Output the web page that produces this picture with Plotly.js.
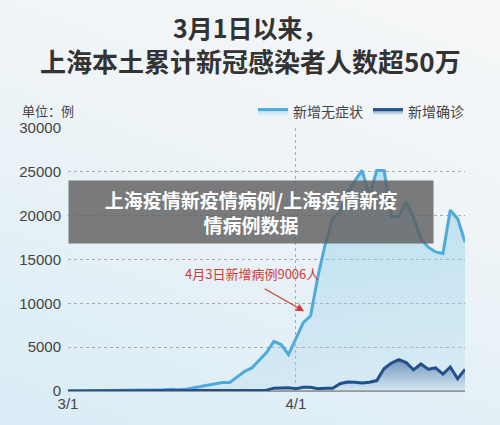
<!DOCTYPE html>
<html><head><meta charset="utf-8">
<script src="https://cdn.plot.ly/plotly-3.0.1.min.js"></script>
<style>
html,body{margin:0;padding:0;}
body{width:500px;height:425px;background:linear-gradient(200deg,#f6f7f8 0%,#eef4f7 40%,#d9ecf6 100%);}
#chart{width:500px;height:425px;}
</style></head><body><div id="chart"></div>
<script>
const dates = ['3/1','3/2','3/3','3/4','3/5','3/6','3/7','3/8','3/9','3/10',
 '3/11','3/12','3/13','3/14','3/15','3/16','3/17','3/18','3/19','3/20',
 '3/21','3/22','3/23','3/24','3/25','3/26','3/27','3/28','3/29','3/30','3/31',
 '4/1','4/2','4/3','4/4','4/5','4/6','4/7','4/8','4/9','4/10',
 '4/11','4/12','4/13','4/14','4/15','4/16','4/17','4/18','4/19','4/20',
 '4/21','4/22','4/23','4/24'];
const asymptomatic = [1,5,14,16,28,45,51,62,76,64,
 78,64,128,130,197,150,203,366,492,734,
 865,977,979,1580,2231,2631,3450,4381,5656,5298,4144,
 6051,7788,8581,13086,16766,19660,20398,22609,23937,25173,
 22348,25141,25146,19872,19923,21582,19831,17332,16407,15861,
 15698,20634,19657,16983];
const confirmed = [1,3,2,3,0,3,1,3,4,11,
 5,1,41,9,5,8,57,8,17,24,
 31,4,4,29,38,45,50,96,326,355,358,
 260,438,425,268,311,322,824,1015,1006,914,
 994,1189,2573,3200,3590,3238,2417,3084,2494,2634,
 1931,2736,1401,2472];
const xTicks = ['3/1','4/1','4/24'];
const xTickText = ['3/1','4/1',''];
const yTicks = [0,5000,10000,15000,20000,25000,30000];
const seriesNames = ['新增无症状','新增确诊'];
const titleLines = ['3月1日以来，','上海本土累计新冠感染者人数超50万'];
const annotText = '4月3日新增病例9006人';
const annotDate = '4/3';
const bannerText = '上海疫情新疫情病例/上海疫情新疫<br>情病例数据';

const cjk = '"Noto Sans CJK SC", "Noto Sans", sans-serif';
const PT = 128, PB = 391; // plot top/bottom px
const py = p => (PB - p) / (PB - PT);
const traces = [
 {x: dates, y: asymptomatic, name: seriesNames[0], type:'scatter', mode:'lines',
  line:{color:'#4eaadb', width:3}, fill:'tozeroy',
  fillgradient:{type:'vertical', start:0, stop:25000,
    colorscale:[[0,'rgba(170,215,238,0.25)'],[1,'rgba(120,195,230,0.45)']]}},
 {x: dates, y: confirmed, name: seriesNames[1], type:'scatter', mode:'lines',
  line:{color:'#23508a', width:3}, fill:'tozeroy',
  fillgradient:{type:'vertical', start:0, stop:3600,
    colorscale:[[0,'rgba(35,80,138,0.0)'],[1,'rgba(35,80,138,0.55)']]}}
];
const layout = {
 width:500, height:425,
 paper_bgcolor:'rgba(0,0,0,0)', plot_bgcolor:'rgba(0,0,0,0)',
 margin:{l:68, r:35, t:128, b:34},
 showlegend:true,
 legend:{orientation:'h', x:1.01, xanchor:'right', y:py(112), yanchor:'middle',
   font:{family:cjk, size:14, color:'#444'}, bgcolor:'rgba(0,0,0,0)', itemwidth:30},
 xaxis:{type:'category', range:[0,54], tickvals:xTicks, ticktext:xTickText,
   showgrid:true, gridcolor:'#aaa', griddash:'dot', gridwidth:1,
   ticks:'', ticklabelstandoff:2,
   tickfont:{family:'"Liberation Sans", Arial, sans-serif', size:15, color:'#444'},
   showline:false, zeroline:false, fixedrange:true},
 yaxis:{range:[0,30000], tickvals:yTicks, tickformat:'d',
   showgrid:true, gridcolor:'#aaa', griddash:'dot', gridwidth:1,
   zeroline:true, zerolinecolor:'#999', zerolinewidth:2,
   ticks:'', ticklabelstandoff:6,
   tickfont:{family:'"Liberation Sans", Arial, sans-serif', size:15, color:'#444'}},
 annotations:[
  {xref:'paper', yref:'paper', x:(250-68)/397, y:py(27), xanchor:'center', yanchor:'middle',
   text:'<b>'+titleLines[0]+'</b>', showarrow:false, font:{family:cjk, size:25, color:'#333'}},
  {xref:'paper', yref:'paper', x:(250-68)/397, y:py(61), xanchor:'center', yanchor:'middle',
   text:'<b>'+titleLines[1]+'</b>', showarrow:false, font:{family:cjk, size:26, color:'#333'}},
  {xref:'paper', yref:'paper', x:-48/397, y:py(110), xanchor:'left', yanchor:'middle',
   text:'单位：例', showarrow:false, font:{family:cjk, size:13, color:'#444'}},
  {xref:'paper', yref:'paper', x:(252-68)/397, y:py(273), xanchor:'center', yanchor:'middle',
   text:annotText, showarrow:false, font:{family:cjk, size:13, color:'#d23a3a'}},
  {xref:'x', yref:'y', x:annotDate, y:asymptomatic[dates.indexOf(annotDate)]+300,
   text:' ', showarrow:true, arrowhead:2, arrowsize:1.3, arrowwidth:1.2, arrowcolor:'#d23a3a',
   ax:-46, ay:-26, standoff:4, xshift:-3},
  {xref:'paper', yref:'paper', x:0, y:py(212), xanchor:'left', yanchor:'middle',
   text:'<b>'+bannerText+'</b>', showarrow:false,
   width:362, height:60, bgcolor:'rgba(95,95,95,0.82)', align:'center',
   font:{family:cjk, size:19, color:'#fff'}}
 ]
};
Plotly.newPlot('chart', traces, layout, {displayModeBar:false, staticPlot:true});
</script></body></html>
